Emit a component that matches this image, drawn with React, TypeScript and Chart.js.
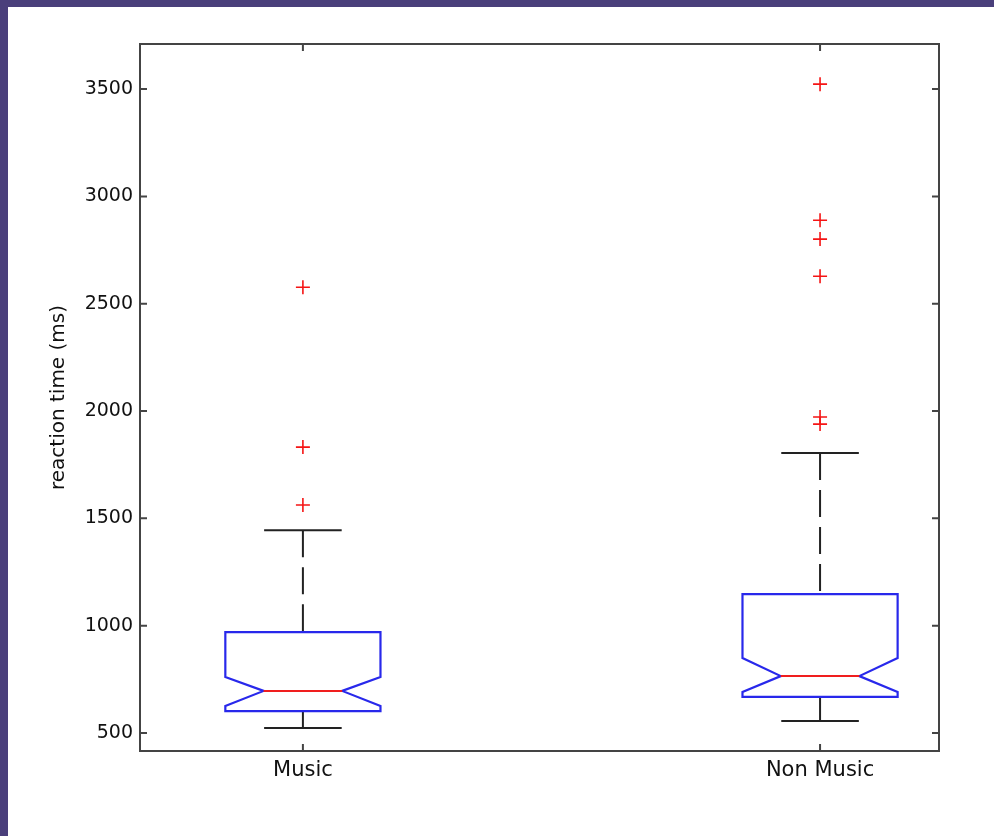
import React, { useEffect, useRef } from "react";
import { Chart, registerables } from "chart.js";

Chart.register(...registerables);

// ---- data ----
const categories = ["Music", "Non Music"];
const positions = [1, 2];
const q1 = [602, 668];
const q3 = [970, 1147];
const medians = [696, 765];
const notchLow = [626, 691];
const notchHigh = [761, 849];
const whiskerLow = [523, 556];
const whiskerHigh = [1445, 1804];
const musicOutliers = [2577, 1832, 1562];
const nonMusicOutliers = [3523, 2889, 2801, 2628, 1972, 1939];
const yTicks = [500, 1000, 1500, 2000, 2500, 3000, 3500];
const yTitle = "reaction time (ms)";

const FONT = "'DejaVu Sans', sans-serif";

const boxPlugin = {
  id: "boxPlugin",
  beforeDatasetsDraw(chart: any) {
    const { ctx } = chart;
    const xs = chart.scales.x;
    const ys = chart.scales.y;
    const hw = 0.15;
    const nw = 0.076;
    const cw = 0.075;
    ctx.save();
    ctx.lineJoin = "miter";
    ctx.lineCap = "butt";
    for (let i = 0; i < positions.length; i++) {
      const p = positions[i];
      const X = (v: number) => xs.getPixelForValue(v);
      const Y = (v: number) => ys.getPixelForValue(v);
      // whiskers
      ctx.strokeStyle = "#222";
      ctx.lineWidth = 2;
      ctx.setLineDash([27, 10]);
      ctx.beginPath();
      ctx.moveTo(X(p), Y(whiskerHigh[i]));
      ctx.lineTo(X(p), Y(q3[i]));
      ctx.stroke();
      ctx.beginPath();
      ctx.moveTo(X(p), Y(q1[i]));
      ctx.lineTo(X(p), Y(whiskerLow[i]));
      ctx.stroke();
      ctx.setLineDash([]);
      // caps
      ctx.beginPath();
      ctx.moveTo(X(p - cw), Y(whiskerHigh[i]));
      ctx.lineTo(X(p + cw), Y(whiskerHigh[i]));
      ctx.moveTo(X(p - cw), Y(whiskerLow[i]));
      ctx.lineTo(X(p + cw), Y(whiskerLow[i]));
      ctx.stroke();
      // notched box
      ctx.strokeStyle = "rgb(40,40,235)";
      ctx.lineWidth = 2.2;
      ctx.beginPath();
      ctx.moveTo(X(p - hw), Y(q3[i]));
      ctx.lineTo(X(p + hw), Y(q3[i]));
      ctx.lineTo(X(p + hw), Y(notchHigh[i]));
      ctx.lineTo(X(p + nw), Y(medians[i]));
      ctx.lineTo(X(p + hw), Y(notchLow[i]));
      ctx.lineTo(X(p + hw), Y(q1[i]));
      ctx.lineTo(X(p - hw), Y(q1[i]));
      ctx.lineTo(X(p - hw), Y(notchLow[i]));
      ctx.lineTo(X(p - nw), Y(medians[i]));
      ctx.lineTo(X(p - hw), Y(notchHigh[i]));
      ctx.closePath();
      ctx.stroke();
      // median
      ctx.strokeStyle = "rgb(240,30,30)";
      ctx.lineWidth = 2;
      ctx.beginPath();
      ctx.moveTo(X(p - nw), Y(medians[i]));
      ctx.lineTo(X(p + nw), Y(medians[i]));
      ctx.stroke();
    }
    ctx.restore();
  },
  afterDraw(chart: any) {
    const { ctx, chartArea } = chart;
    const xs = chart.scales.x;
    const ys = chart.scales.y;
    const { left, right, top, bottom } = chartArea;
    const tl = 7;
    ctx.save();
    ctx.strokeStyle = "#444";
    ctx.lineWidth = 2;
    ctx.strokeRect(left, top, right - left, bottom - top);
    ctx.beginPath();
    for (const v of yTicks) {
      const y = ys.getPixelForValue(v);
      ctx.moveTo(left, y);
      ctx.lineTo(left + tl, y);
      ctx.moveTo(right, y);
      ctx.lineTo(right - tl, y);
    }
    for (const p of positions) {
      const x = xs.getPixelForValue(p);
      ctx.moveTo(x, bottom);
      ctx.lineTo(x, bottom - tl);
      ctx.moveTo(x, top);
      ctx.lineTo(x, top + tl);
    }
    ctx.stroke();
    ctx.restore();
  },
};

function BoxChart() {
  const ref = useRef<HTMLCanvasElement | null>(null);
  useEffect(() => {
    if (!ref.current) return;
    const chart = new Chart(ref.current, {
      type: "scatter",
      data: {
        datasets: [
          {
            label: categories[0],
            data: musicOutliers.map((v) => ({ x: positions[0], y: v })),
            pointStyle: "cross",
            radius: 7,
            borderColor: "rgb(245,20,20)",
            borderWidth: 1.6,
          },
          {
            label: categories[1],
            data: nonMusicOutliers.map((v) => ({ x: positions[1], y: v })),
            pointStyle: "cross",
            radius: 7,
            borderColor: "rgb(245,20,20)",
            borderWidth: 1.6,
          },
        ],
      },
      options: {
        responsive: false,
        animation: false,
        events: [],
        layout: { padding: { left: 0, top: 37, right: 55, bottom: 0 } },
        plugins: { legend: { display: false }, tooltip: { enabled: false } },
        scales: {
          x: {
            type: "linear",
            min: 0.685,
            max: 2.23,
            grid: { display: false, drawTicks: false },
            border: { display: false },
            afterBuildTicks: (s: any) => {
              s.ticks = positions.map((v) => ({ value: v }));
            },
            afterFit: (s: any) => {
              s.height = 85;
            },
            ticks: {
              autoSkip: false,
              maxRotation: 0,
              padding: 7,
              color: "#111",
              font: { family: FONT, size: 21 },
              callback: (v: any) => categories[positions.indexOf(Number(v))] ?? "",
            },
          },
          y: {
            type: "linear",
            min: 416,
            max: 3710,
            grid: { display: false, drawTicks: false },
            border: { display: false },
            afterBuildTicks: (s: any) => {
              s.ticks = yTicks.map((v) => ({ value: v }));
            },
            afterFit: (s: any) => {
              s.width = 132;
            },
            ticks: {
              padding: 7,
              color: "#111",
              font: { family: FONT, size: 19 },
              callback: (v: any) => String(v),
            },
            title: {
              display: true,
              text: yTitle,
              color: "#111",
              font: { family: FONT, size: 20 },
              padding: { top: 39, bottom: 0 },
            },
          },
        },
      },
      plugins: [boxPlugin],
    });
    return () => chart.destroy();
  }, []);
  return <canvas ref={ref} width={986} height={829} style={{ display: "block" }} />;
}

export default function App() {
  return (
    <div style={{ position: "fixed", left: 0, top: 0, width: 994, height: 836, background: "#4a3f7b" }}>
      <div style={{ position: "absolute", left: 8, top: 7, width: 986, height: 829, background: "#fff" }}>
        <BoxChart />
      </div>
    </div>
  );
}
